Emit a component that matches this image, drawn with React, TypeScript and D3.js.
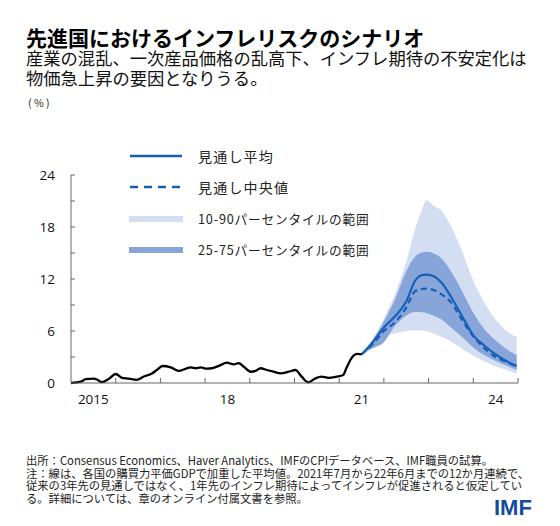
import React from 'react';
import * as d3 from 'd3';

// history (decimal years)
const histYears = [
  2015.0, 2015.22, 2015.33, 2015.51, 2015.58, 2015.69, 2015.85, 2016.0, 2016.14, 2016.29,
  2016.47, 2016.63, 2016.81, 2016.92, 2017.05, 2017.23, 2017.41, 2017.59, 2017.68, 2017.79,
  2017.9, 2018.04, 2018.19, 2018.35, 2018.48, 2018.64, 2018.75, 2018.86, 2019.02, 2019.13,
  2019.24, 2019.38, 2019.53, 2019.69, 2019.87, 2020.02, 2020.16, 2020.31, 2020.47, 2020.6,
  2020.76, 2020.94, 2021.09, 2021.16, 2021.25, 2021.32, 2021.41, 2021.5,
];
const histValues = [
  0.0, 0.15, 0.45, 0.5, 0.4, 0.1, 0.5, 1.04, 0.6, 0.5,
  0.35, 0.75, 1.1, 1.5, 1.96, 1.8, 1.4, 1.7, 1.8, 1.7,
  1.8, 1.65, 1.75, 2.07, 2.35, 2.15, 2.3, 1.9, 1.3, 1.4,
  1.7, 1.5, 1.3, 1.1, 1.3, 1.5, 0.73, 0.08, 0.54, 0.73,
  0.6, 0.73, 0.92, 1.7, 2.65, 3.15, 3.35, 3.3,
];

// forecast
const fcYears = [2021.5, 2021.75, 2022.0, 2022.25, 2022.5, 2022.7, 2022.85, 2022.95, 2023.1, 2023.3, 2023.5, 2023.75, 2024.0, 2024.25, 2024.5, 2024.75, 2024.97];
const p90 = [3.3, 5.0, 7.5, 10.3, 14.0, 17.8, 20.0, 21.1, 20.5, 19.8, 18.1, 15.2, 11.8, 9.3, 7.3, 6.0, 5.3];
const p75 = [3.3, 5.0, 7.1, 9.7, 12.9, 14.6, 15.05, 15.15, 15.0, 14.3, 12.9, 10.6, 8.1, 6.2, 4.9, 3.9, 3.2];
const p25 = [3.3, 4.0, 4.7, 6.6, 7.8, 8.2, 8.15, 8.05, 7.8, 7.3, 6.4, 5.3, 4.1, 3.2, 2.55, 2.0, 1.5];
const p10 = [3.3, 4.3, 5.3, 5.7, 6.0, 6.1, 6.05, 6.0, 5.75, 5.3, 4.8, 3.95, 3.15, 2.5, 1.9, 1.5, 1.1];
const meanValues = [3.3, 4.7, 6.4, 7.7, 9.4, 11.8, 12.45, 12.5, 12.35, 11.5, 9.95, 7.7, 5.5, 4.3, 3.3, 2.5, 1.95];
const medianValues = [3.3, 4.5, 6.0, 7.0, 8.7, 10.6, 10.85, 10.9, 10.75, 10.2, 9.3, 7.25, 5.4, 4.0, 3.0, 2.4, 1.9];

const yTickLabels = [0, 6, 12, 18, 24];
const xLabelYears = [2015, 2018, 2021, 2024];
const xLabelTexts = ['2015', '18', '21', '24'];

const legendLabels = ['見通し平均', '見通し中央値', '10-90パーセンタイルの範囲', '25-75パーセンタイルの範囲'];

const title = '先進国におけるインフレリスクのシナリオ';
const subtitle = ['産業の混乱、一次産品価格の乱高下、インフレ期待の不安定化は', '物価急上昇の要因となりうる。'];
const notes = [
  '出所：Consensus Economics、Haver Analytics、IMFのCPIデータベース、IMF職員の試算。',
  '注：線は、各国の購買力平価GDPで加重した平均値。2021年7月から22年6月までの12か月連続で、',
  '従来の3年先の見通しではなく、1年先のインフレ期待によってインフレが促進されると仮定してい',
  'る。詳細については、章のオンライン付属文書を参照。',
];

const JP = '"Noto Sans CJK JP", "Noto Sans", sans-serif';
const NUM = '"Open Sans", "Noto Sans", sans-serif';
const LIGHT = '#d3def2';
const DARK = '#88a5da';
const BLUE = '#1560b7';

export default function App() {
  const x = d3.scaleLinear().domain([2015, 2025]).range([71, 518]);
  const y = d3.scaleLinear().domain([0, 24]).range([383, 175]);

  const idx = fcYears.map((_, i) => i);
  const band = (lo: number[], hi: number[]) =>
    d3.area<number>()
      .x(i => x(fcYears[i]))
      .y0(i => y(lo[i]))
      .y1(i => y(hi[i]))
      .curve(d3.curveMonotoneX)(idx) as string;
  const fcLine = (vals: number[]) =>
    d3.line<number>()
      .x(i => x(fcYears[i]))
      .y(i => y(vals[i]))
      .curve(d3.curveMonotoneX)(idx) as string;
  const histPath = d3.line<number>()
    .x(i => x(histYears[i]))
    .y(i => y(histValues[i]))
    .curve(d3.curveMonotoneX)(histYears.map((_, i) => i)) as string;

  const yMinor = d3.range(3, 25, 3);
  const xTicks = d3.range(2016, 2026);

  return (
    <svg width={560} height={526} style={{position: 'absolute', left: 0, top: 0, background: '#fff'}}>
      <text x={26} y={46} fontFamily={JP} fontWeight={700} fontSize={21} fill="#000">{title}</text>
      {subtitle.map((s, i) => (
        <text key={i} x={26} y={65 + i * 19.5} fontFamily={JP} fontSize={17.3} fill="#111">{s}</text>
      ))}
      <text x={28} y={107} fontFamily={JP} fontSize={10.5} fill="#222">( % )</text>

      {/* fan */}
      <path d={band(p10, p90)} fill={LIGHT}/>
      <path d={band(p25, p75)} fill={DARK}/>
      <path d={fcLine(medianValues)} fill="none" stroke={BLUE} strokeWidth={2.2} strokeDasharray="6,4"/>
      <path d={fcLine(meanValues)} fill="none" stroke={BLUE} strokeWidth={2.2}/>
      <path d={histPath} fill="none" stroke="#000" strokeWidth={2.3} strokeLinejoin="round"/>

      {/* axes */}
      <g stroke="#666" strokeWidth={1}>
        <line x1={x(2015)} x2={x(2015)} y1={y(24)} y2={y(0)}/>
        <line x1={x(2015)} x2={x(2025)} y1={y(0)} y2={y(0)}/>
        {yMinor.map(v => <line key={v} x1={x(2015)} x2={x(2015) + 4} y1={y(v)} y2={y(v)}/>)}
        {xTicks.map(t => <line key={t} x1={x(t)} x2={x(t)} y1={y(0)} y2={y(0) - 5}/>)}
      </g>
      {yTickLabels.map(v => (
        <text key={v} x={55} y={y(v) + 5} textAnchor="end" fontFamily={NUM} fontSize={13.5} fill="#111">{v}</text>
      ))}
      {xLabelYears.map((t, i) => (
        <text key={t} x={x(t + 0.5)} y={404} textAnchor="middle" fontFamily={NUM} fontSize={13.5} fill="#111">{xLabelTexts[i]}</text>
      ))}

      {/* legend */}
      <line x1={130} x2={182} y1={156} y2={156} stroke={BLUE} strokeWidth={2.4}/>
      <line x1={130} x2={182} y1={187} y2={187} stroke={BLUE} strokeWidth={2.4} strokeDasharray="8,6"/>
      <rect x={129} y={216} width={54} height={6} fill={LIGHT}/>
      <rect x={129} y={247} width={54} height={6} fill={DARK}/>
      {legendLabels.map((s, i) => (
        <text key={i} x={198} y={[162, 193, 224, 255][i]} fontFamily={JP}
          fontSize={i < 2 ? 14 : 12.7} letterSpacing={i < 2 ? 1.2 : 0.8} fill="#222">{s}</text>
      ))}

      {notes.map((s, i) => (
        <text key={i} x={26} y={465 + i * 12.5} fontFamily={JP} fontSize={11.3} fill="#222">{s}</text>
      ))}
      <text x={494} y={515} fontFamily='"Liberation Sans", Arial, sans-serif' fontWeight={700} fontSize={22} fill="#134b9f">IMF</text>
    </svg>
  );
}
